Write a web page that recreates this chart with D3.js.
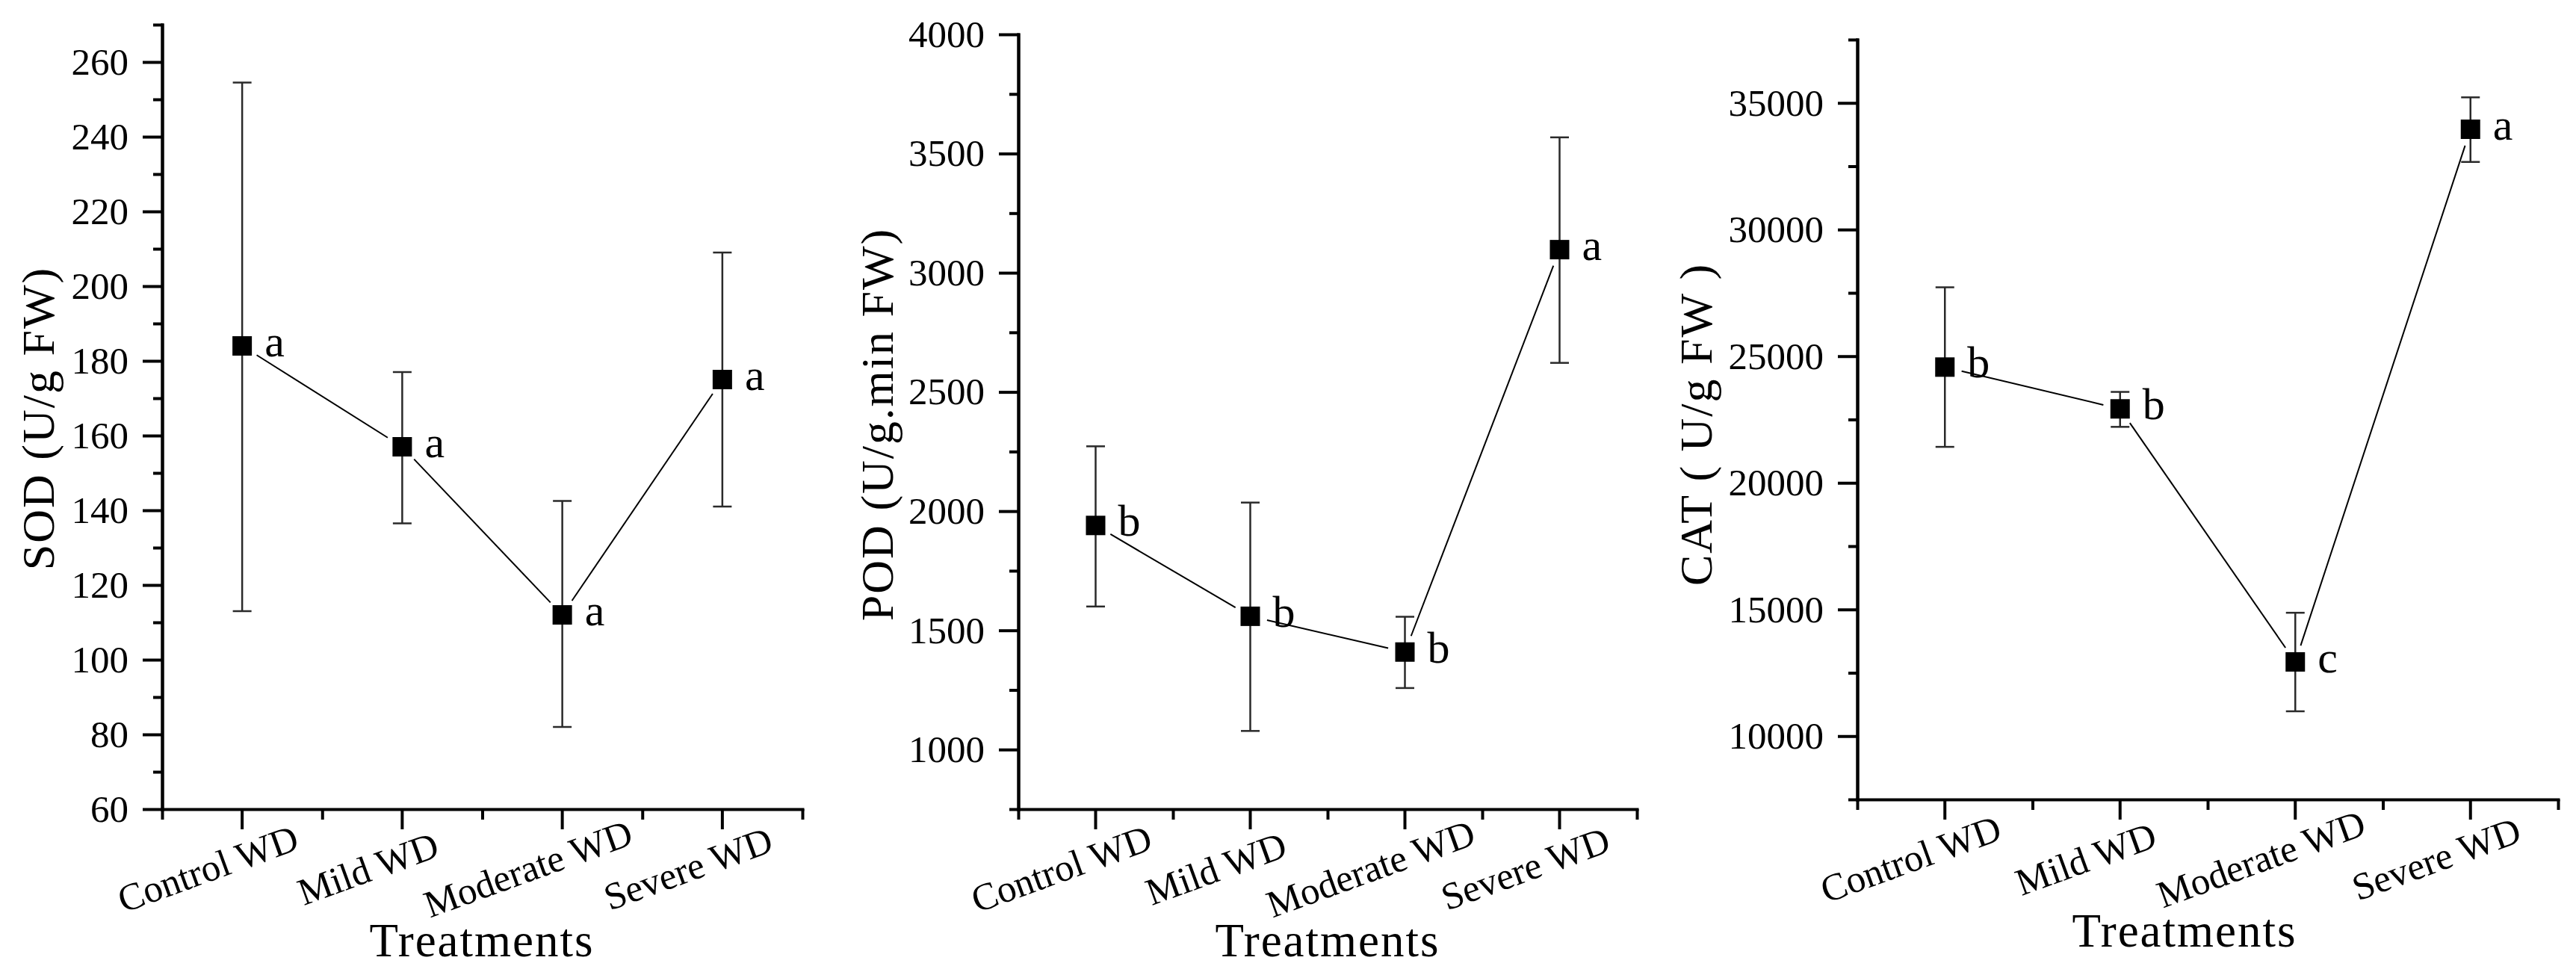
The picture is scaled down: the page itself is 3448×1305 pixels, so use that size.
<!DOCTYPE html>
<html>
<head>
<meta charset="utf-8">
<script src="https://cdn.jsdelivr.net/npm/d3@7"></script>
<style>
  body { margin: 0; background: #fff; }
  svg { display: block; font-family: "Liberation Serif", serif; }
</style>
</head>
<body>
<svg id="chart" width="3448" height="1305"></svg>
<script>
const categories = ["Control WD", "Mild WD", "Moderate WD", "Severe WD"];

// SOD (U/g FW)
const sodMean = [184, 157, 112, 175];
const sodLow = [113, 136.5, 82, 141];
const sodHigh = [254.5, 177, 142.5, 209];
const sodLetters = ["a", "a", "a", "a"];
const sodTicks = [60, 80, 100, 120, 140, 160, 180, 200, 220, 240, 260];

// POD (U/g.min FW)
const podMean = [1940, 1559, 1409, 3097];
const podLow = [1600, 1078, 1258, 2622];
const podHigh = [2272, 2036, 1557, 3568];
const podLetters = ["b", "b", "b", "a"];
const podTicks = [1000, 1500, 2000, 2500, 3000, 3500, 4000];

// CAT (U/g FW)
const catMean = [24570, 22920, 12930, 33960];
const catLow = [21420, 22210, 10980, 32670];
const catHigh = [27720, 23590, 14870, 35220];
const catLetters = ["b", "b", "c", "a"];
const catTicks = [10000, 15000, 20000, 25000, 30000, 35000];

const panels = [
    { mean: sodMean, low: sodLow, high: sodHigh, letters: sodLetters, ticks: sodTicks,
      domain: [60, 270], title: "SOD (U/g FW)",
      left: 217, right: 1074, top: 33, bottom: 1083, yTitle: [72, 560], xTitle: 645 },
    { mean: podMean, low: podLow, high: podHigh, letters: podLetters, ticks: podTicks,
      domain: [750, 4000], title: "POD (U/g.min FW)",
      left: 1363, right: 2191, top: 46, bottom: 1083, yTitle: [1195, 568], xTitle: 1777 },
    { mean: catMean, low: catLow, high: catHigh, letters: catLetters, ticks: catTicks,
      domain: [7500, 37500], title: "CAT ( U/g FW )",
      left: 2486, right: 3424, top: 53, bottom: 1070, yTitle: [2291, 568], xTitle: 2924 }
];

const svg = d3.select("#chart");
svg.append("rect").attr("width", 3448).attr("height", 1305).attr("fill", "#fff");

const styleAxis = (a) => {
    a.attr("font-family", null).attr("font-size", null);
    a.select(".domain").attr("stroke", "#000").attr("stroke-width", 4).attr("stroke-linecap", "square");
    a.selectAll(".tick line").attr("stroke", "#000").attr("stroke-width", 4);
    a.selectAll("text").attr("fill", "#000");
};

panels.forEach((p) => {
    const x = d3.scaleBand().domain(categories).range([p.left, p.right]);
    const xEdge = d3.scaleLinear().domain([0, categories.length]).range([p.left, p.right]);
    const y = d3.scaleLinear().domain(p.domain).range([p.bottom, p.top]);
    const cx = (c) => x(c) + x.bandwidth() / 2;

    const step = p.ticks[1] - p.ticks[0];
    const minor = d3.range(p.domain[0], p.domain[1] + step / 4, step / 2)
        .filter(v => !p.ticks.includes(v));

    const g = svg.append("g");

    // y axis: minor then major ticks
    g.append("g")
        .attr("transform", `translate(${p.left},0)`)
        .call(d3.axisLeft(y).tickValues(minor).tickSize(12).tickSizeOuter(0).tickFormat(""))
        .call(styleAxis);
    g.append("g")
        .attr("transform", `translate(${p.left},0)`)
        .call(d3.axisLeft(y).tickValues(p.ticks).tickSize(26).tickPadding(19).tickSizeOuter(0)
            .tickFormat(d3.format("d")))
        .call(styleAxis)
        .call(a => a.selectAll("text").attr("font-size", 51));

    // x axis: edge ticks then category ticks
    g.append("g")
        .attr("transform", `translate(0,${p.bottom})`)
        .call(d3.axisBottom(xEdge).tickValues(d3.range(categories.length + 1)).tickSize(14).tickSizeOuter(0).tickFormat(""))
        .call(styleAxis);
    g.append("g")
        .attr("transform", `translate(0,${p.bottom})`)
        .call(d3.axisBottom(x).tickSize(27).tickSizeOuter(0))
        .call(styleAxis)
        .call(a => a.select(".domain").remove())
        .call(a => a.selectAll("text")
            .attr("y", 0)
            .attr("dy", "0.35em")
            .attr("text-anchor", "middle")
            .attr("font-size", 51)
            .attr("transform", "translate(-46,79) rotate(-20)"));

    // titles
    g.append("text")
        .attr("transform", `translate(${p.yTitle[0]},${p.yTitle[1]}) rotate(-90)`)
        .attr("text-anchor", "middle")
        .attr("font-size", 62)
        .attr("letter-spacing", 2)
        .text(p.title);
    g.append("text")
        .attr("x", p.xTitle)
        .attr("y", p.bottom + 197)
        .attr("text-anchor", "middle")
        .attr("font-size", 63)
        .attr("letter-spacing", 2)
        .text("Treatments");

    const pts = categories.map((c, i) => ({
        c, x: cx(c), y: y(p.mean[i]), lo: y(p.low[i]), hi: y(p.high[i]), letter: p.letters[i]
    }));

    // error bars
    const eb = g.append("g").attr("stroke", "#2a2a2a").attr("stroke-width", 2.5);
    pts.forEach(d => {
        eb.append("line").attr("x1", d.x).attr("x2", d.x).attr("y1", d.lo).attr("y2", d.hi);
        eb.append("line").attr("x1", d.x - 12.5).attr("x2", d.x + 12.5).attr("y1", d.hi).attr("y2", d.hi);
        eb.append("line").attr("x1", d.x - 12.5).attr("x2", d.x + 12.5).attr("y1", d.lo).attr("y2", d.lo);
    });

    // connecting line, with a gap around each symbol
    const gap = 23;
    d3.pairs(pts).forEach(([a, b]) => {
        const dx = b.x - a.x, dy = b.y - a.y;
        const len = Math.hypot(dx, dy);
        const ux = dx / len, uy = dy / len;
        g.append("line")
            .attr("x1", a.x + ux * gap).attr("y1", a.y + uy * gap)
            .attr("x2", b.x - ux * gap).attr("y2", b.y - uy * gap)
            .attr("stroke", "#000").attr("stroke-width", 2);
    });

    // square symbols
    g.selectAll(".sym").data(pts).join("rect")
        .attr("class", "sym")
        .attr("x", d => d.x - 13).attr("y", d => d.y - 13)
        .attr("width", 26).attr("height", 26)
        .attr("fill", "#000");

    // significance letters
    g.selectAll(".lt").data(pts).join("text")
        .attr("class", "lt")
        .attr("x", d => d.x + 30).attr("y", d => d.y + 14)
        .attr("font-size", 60)
        .text(d => d.letter);
});
</script>
</body>
</html>
